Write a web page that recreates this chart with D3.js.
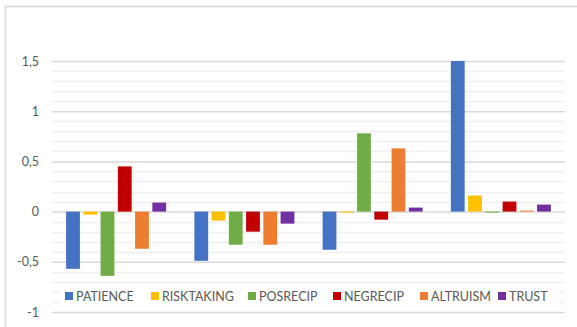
<!DOCTYPE html>
<html>
<head>
<meta charset="utf-8">
<script src="https://cdn.jsdelivr.net/npm/d3@7"></script>
<style>
  html, body { margin: 0; padding: 0; background: #fff; }
  svg { display: block; }
  text { font-family: Lato, "Open Sans", sans-serif; fill: #595959; }
</style>
</head>
<body>
<svg id="chart" width="577" height="327"></svg>
<script>
// Groups along the x axis (unlabelled clusters)
const groups = ["G1", "G2", "G3", "G4"];
// Preference measures, one bar per group each
const series = ["PATIENCE", "RISKTAKING", "POSRECIP", "NEGRECIP", "ALTRUISM", "TRUST"];
const colors = ["#4472C4", "#FFC000", "#70AD47", "#C00000", "#ED7D31", "#7030A0"];
// Values per series, in group order
const patience   = [-0.57, -0.49, -0.38, 1.50];
const risktaking = [-0.03, -0.09, -0.01, 0.16];
const posrecip   = [-0.64, -0.33, 0.78, -0.01];
const negrecip   = [0.45, -0.20, -0.08, 0.10];
const altruism   = [-0.37, -0.33, 0.63, 0.01];
const trust      = [0.09, -0.12, 0.04, 0.07];
const yTicks = [-1, -0.5, 0, 0.5, 1, 1.5];
const yTickLabels = ["-1", "-0,5", "0", "0,5", "1", "1,5"];

const values = [patience, risktaking, posrecip, negrecip, altruism, trust];

const svg = d3.select("#chart");
const plot = { left: 52, right: 565, top: 61, bottom: 312 };

// outer frame (top and left edges)
svg.append("path")
  .attr("d", "M5.5,327 V6.5 H577")
  .attr("fill", "none").attr("stroke", "#d9d9d9").attr("stroke-width", 1.5);

const y = d3.scaleLinear().domain([-1, 1.5]).range([plot.bottom, plot.top]);
const x0 = d3.scaleBand().domain(groups).range([plot.left, plot.right]).paddingInner(0.22).paddingOuter(0.11);
const x1 = d3.scaleBand().domain(series).range([0, x0.bandwidth()]).paddingInner(0.2).paddingOuter(0);

// minor gridlines every 0.1
const minor = d3.range(-10, 16).map(d => d / 10).filter(d => Math.abs(d * 2 - Math.round(d * 2)) > 1e-6);
svg.append("g").selectAll("line").data(minor).join("line")
  .attr("x1", plot.left).attr("x2", plot.right)
  .attr("y1", d => Math.round(y(d)) + 0.5).attr("y2", d => Math.round(y(d)) + 0.5)
  .attr("stroke", "#f0f0f0").attr("stroke-width", 1.5);

// major gridlines and tick labels
const axis = d3.axisLeft(y).tickValues(yTicks)
  .tickSize(-(plot.right - plot.left))
  .tickFormat((d, i) => yTickLabels[i]);
const ag = svg.append("g").attr("transform", `translate(${plot.left},0)`).call(axis);
ag.select(".domain").remove();
ag.selectAll(".tick line").attr("stroke", "#d9d9d9").attr("stroke-width", 1.5);
ag.selectAll(".tick text").attr("x", -13).attr("font-size", 12.5).attr("fill", "#595959");

// bars
const gg = svg.append("g").selectAll("g").data(groups).join("g")
  .attr("transform", g => `translate(${x0(g)},0)`);
gg.selectAll("rect")
  .data((g, gi) => series.map((s, si) => ({ s, si, v: values[si][gi] })))
  .join("rect")
  .attr("x", d => x1(d.s))
  .attr("width", x1.bandwidth())
  .attr("y", d => Math.min(y(d.v), y(0)))
  .attr("height", d => Math.max(Math.abs(y(d.v) - y(0)), 1))
  .attr("fill", d => colors[d.si]);

// legend with white background over the lower gridlines
const legendX = [65, 151, 248, 333, 420, 498];
const lg = svg.append("g");
lg.append("rect").attr("x", 60).attr("y", 286).attr("width", 500).attr("height", 21).attr("fill", "#fff");
const items = lg.selectAll("g").data(series).join("g")
  .attr("transform", (d, i) => `translate(${legendX[i]},296)`);
items.append("rect").attr("x", 0).attr("y", -4).attr("width", 8).attr("height", 8)
  .attr("fill", (d, i) => colors[i]);
items.append("text").attr("x", 11).attr("y", 0).attr("dy", "0.36em")
  .attr("font-size", 12.5).text(d => d);
</script>
</body>
</html>
